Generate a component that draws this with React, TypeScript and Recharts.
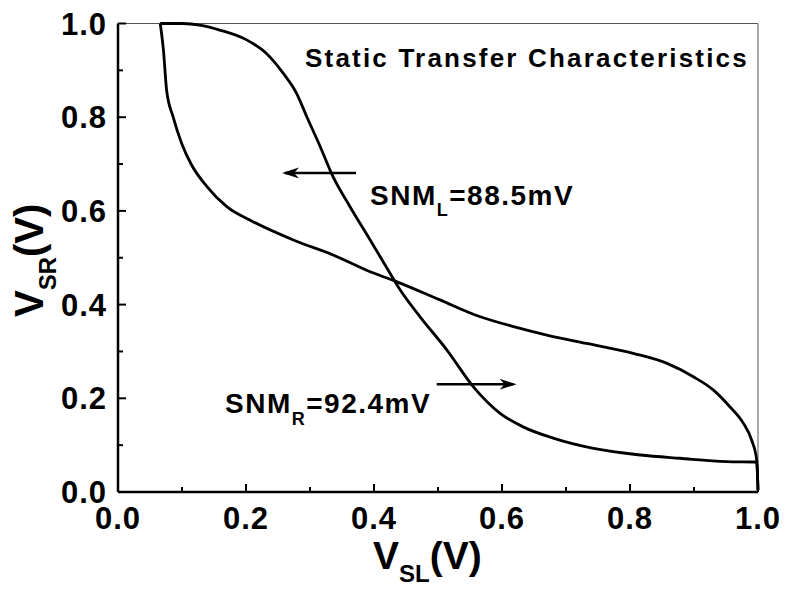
import React from "react";
import { LineChart, Line, XAxis, YAxis, ReferenceLine } from "recharts";

// curve where V_SR drops fast first
const curveAX = [
  0.066, 0.071, 0.076, 0.086, 0.0995, 0.115, 0.139, 0.17, 0.211, 0.274, 0.336,
  0.394, 0.435, 0.503, 0.566, 0.618, 0.67, 0.732, 0.805, 0.857, 0.899, 0.93,
  0.956, 0.977, 0.99, 0.998, 1.0,
];
const curveAY = [
  1.0, 0.943, 0.857, 0.801, 0.744, 0.698, 0.652, 0.609, 0.577, 0.538, 0.506,
  0.47, 0.449, 0.41, 0.374, 0.353, 0.335, 0.317, 0.296, 0.275, 0.246, 0.218,
  0.182, 0.147, 0.111, 0.068, 0.004,
];

// mirrored curve, stays high then falls
const curveBX = [
  0.066, 0.1, 0.13, 0.159, 0.201, 0.232, 0.258, 0.279, 0.295, 0.316, 0.336,
  0.3625, 0.394, 0.425, 0.441, 0.472, 0.514, 0.555, 0.597, 0.633, 0.68, 0.743,
  0.816, 0.878, 0.951, 0.998, 1.0,
];
const curveBY = [
  1.0, 1.0, 0.996, 0.986, 0.965, 0.936, 0.894, 0.851, 0.801, 0.737, 0.673,
  0.609, 0.538, 0.467, 0.431, 0.374, 0.303, 0.225, 0.168, 0.139, 0.115, 0.093,
  0.079, 0.072, 0.065, 0.064, 0.004,
];

const ticks = [0, 0.1, 0.2, 0.3, 0.4, 0.5, 0.6, 0.7, 0.8, 0.9, 1.0];

// arrows: [from, to] in data units
const arrowL = [
  { x: 0.372, y: 0.681 },
  { x: 0.261, y: 0.681 },
];
const arrowR = [
  { x: 0.498, y: 0.23 },
  { x: 0.618, y: 0.23 },
];

const dataA = curveAX.map((x, i) => ({ x, y: curveAY[i] }));
const dataB = curveBX.map((x, i) => ({ x, y: curveBY[i] }));

const FONT = "'Liberation Sans', Arial, sans-serif";
const GAP = 11;

const isMajor = (v: number) => Math.round(v * 10) % 2 === 0;

function YTick(props: any) {
  const { x, y, payload } = props;
  const v = payload.value as number;
  const ax = x + GAP;
  const major = isMajor(v);
  return (
    <g>
      <line x1={ax} x2={ax + (major ? 8 : 5)} y1={y} y2={y} stroke="#000" strokeWidth={2} />
      {major && (
        <text
          x={x}
          y={y}
          dy="0.36em"
          textAnchor="end"
          fontFamily={FONT}
          fontWeight="bold"
          fontSize={31}
          letterSpacing={1}
          fill="#000"
        >
          {v.toFixed(1)}
        </text>
      )}
    </g>
  );
}

function XTick(props: any) {
  const { x, y, payload } = props;
  const v = payload.value as number;
  const ay = y - GAP;
  const major = isMajor(v);
  return (
    <g>
      <line x1={x} x2={x} y1={ay} y2={ay - (major ? 8 : 5)} stroke="#000" strokeWidth={2} />
      {major && (
        <text
          x={x}
          y={y + 26}
          textAnchor="middle"
          fontFamily={FONT}
          fontWeight="bold"
          fontSize={31}
          letterSpacing={1}
          fill="#000"
        >
          {v.toFixed(1)}
        </text>
      )}
    </g>
  );
}

const Arrow = (props: any) => (
  <line
    x1={props.x1}
    y1={props.y1}
    x2={props.x2}
    y2={props.y2}
    stroke="#000"
    strokeWidth={2.5}
    markerEnd="url(#arrowHead)"
  />
);

export default function App() {
  return (
    <div style={{ position: "relative", width: 780, height: 583 }}>
      <svg width={0} height={0} style={{ position: "absolute" }}>
        <defs>
          <marker
            id="arrowHead"
            markerUnits="userSpaceOnUse"
            markerWidth={18}
            markerHeight={12}
            refX={14}
            refY={5.5}
            orient="auto"
          >
            <path d="M0,0 L17,5.5 L0,11 L5,5.5 z" fill="#000" />
          </marker>
        </defs>
      </svg>
      <LineChart
        width={780}
        height={583}
        margin={{ top: 15.5, right: 30, bottom: 59, left: 50 }}
      >
        <XAxis
          type="number"
          dataKey="x"
          domain={[0, 1]}
          ticks={ticks}
          interval={0}
          tickSize={0}
          tickMargin={GAP}
          tickLine={false}
          tick={<XTick />}
          height={40}
          axisLine={{ stroke: "#000", strokeWidth: 2.5 }}
          allowDuplicatedCategory={false}
        />
        <YAxis
          type="number"
          dataKey="y"
          domain={[0, 1]}
          ticks={ticks}
          interval={0}
          tickSize={0}
          tickMargin={GAP}
          tickLine={false}
          tick={<YTick />}
          width={60}
          axisLine={{ stroke: "#000", strokeWidth: 2.5 }}
        />
        <ReferenceLine y={1} stroke="#555" strokeWidth={1} />
        <ReferenceLine x={1} stroke="#555" strokeWidth={1} />
        <Line
          data={dataA}
          dataKey="y"
          type="monotone"
          stroke="#000"
          strokeWidth={2.8}
          dot={false}
          isAnimationActive={false}
        />
        <Line
          data={dataB}
          dataKey="y"
          type="monotone"
          stroke="#000"
          strokeWidth={2.8}
          dot={false}
          isAnimationActive={false}
        />
        <ReferenceLine segment={arrowL} shape={<Arrow />} />
        <ReferenceLine segment={arrowR} shape={<Arrow />} />
      </LineChart>
      <svg
        width={780}
        height={583}
        style={{ position: "absolute", left: 0, top: 0, pointerEvents: "none" }}
        fontFamily={FONT}
        fontWeight="bold"
        fill="#000"
      >
        <text x={297} y={59} fontSize={26} letterSpacing={2.2}>
          Static Transfer Characteristics
        </text>
        <text x={362} y={197} fontSize={28} letterSpacing={1.5}>
          SNM
          <tspan dy={11} fontSize={18}>L</tspan>
          <tspan dy={-11}>=88.5mV</tspan>
        </text>
        <text x={217} y={405} fontSize={28} letterSpacing={1.5}>
          SNM
          <tspan dy={12} fontSize={18}>R</tspan>
          <tspan dy={-12}>=92.4mV</tspan>
        </text>
        <text x={365} y={561} fontSize={39}>
          V<tspan dy={13} fontSize={24}>SL</tspan>
          <tspan dy={-13}>(V)</tspan>
        </text>
        <text transform="translate(35,309) rotate(-90)" fontSize={40}>
          V<tspan dy={13} fontSize={24}>SR</tspan>
          <tspan dy={-13}>(V)</tspan>
        </text>
      </svg>
    </div>
  );
}
